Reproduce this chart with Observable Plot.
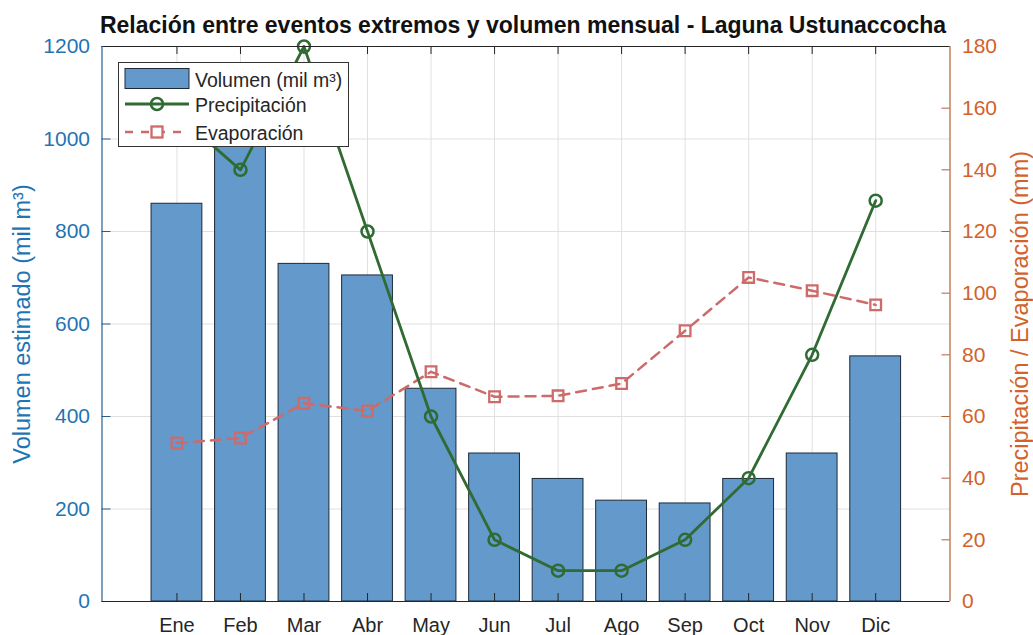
<!DOCTYPE html>
<html>
<head>
<meta charset="utf-8">
<script src="https://cdn.jsdelivr.net/npm/d3@7"></script>
<script src="https://cdn.jsdelivr.net/npm/@observablehq/plot@0.6"></script>
<style>
  html, body { margin: 0; padding: 0; background: #fff; }
  body { font-family: "Liberation Sans", Arial, sans-serif; }
  #wrap { position: relative; width: 1033px; height: 635px; overflow: hidden; }
  #wrap svg { display: block; }
  #legend { position: absolute; left: 118px; top: 62px; width: 231px; height: 85px; }
</style>
</head>
<body>
<div id="wrap"></div>
<script>
// ---- data ----
const months = ["Ene","Feb","Mar","Abr","May","Jun","Jul","Ago","Sep","Oct","Nov","Dic"];
const volumen = [860, 1050, 730, 705, 460, 320, 265, 218, 212, 265, 320, 530];          // mil m³
const precipitacion = [158, 140, 180, 120, 60, 20, 10, 10, 20, 40, 80, 130];            // mm
const evaporacion = [51.4, 53, 64.3, 61.8, 74.5, 66.4, 66.7, 70.7, 87.8, 105.1, 100.8, 96.2]; // mm
const volTicks = [0, 200, 400, 600, 800, 1000, 1200];
const mmTicks = [0, 20, 40, 60, 80, 100, 120, 140, 160, 180];
const titleText = "Relación entre eventos extremos y volumen mensual - Laguna Ustunaccocha";
const yLeftLabel = "Volumen estimado (mil m³)";
const yRightLabel = "Precipitación / Evaporación (mm)";
const legendLabels = ["Volumen (mil m³)", "Precipitación", "Evaporación"];

// ---- layout ----
const W = 1033, H = 635;
const mL = 101.5, mR = 83.5, mT = 46, mB = 34;
const fw = W - mL - mR, fh = H - mT - mB;
const xDomain = [-0.18, 13.17];
const yMax = 1200, mmMax = 180;
const k = yMax / mmMax; // right axis (mm) -> left axis units

const colBlue = "#1f74b4", colOrange = "#d2622a", colText = "#262626";
const barFill = "#6399cb", barStroke = "#1c2a3a";
const colPre = "#2f6b33", colEva = "#cd6b6b";
const font = "Liberation Sans, Arial, Helvetica, sans-serif";

const data = months.map((m, i) => ({
  i: i + 1, m, vol: volumen[i], pre: precipitacion[i] * k, eva: evaporacion[i] * k
}));
const idx = data.map(d => d.i);

const chart = Plot.plot({
  width: W, height: H,
  marginLeft: mL, marginRight: mR, marginTop: mT, marginBottom: mB,
  style: { fontFamily: font, background: "white", color: colText },
  x: { type: "linear", domain: xDomain, axis: null },
  y: { domain: [0, yMax], axis: null },
  marks: [
    Plot.gridX(idx, { stroke: "#e0e0e0", strokeOpacity: 1, strokeWidth: 1 }),
    Plot.gridY(volTicks, { stroke: "#e0e0e0", strokeOpacity: 1, strokeWidth: 1 }),
    Plot.rectY(data, { x1: d => d.i - 0.4, x2: d => d.i + 0.4, y: "vol", fill: barFill, stroke: barStroke, strokeWidth: 1 }),
    // inward ticks (MATLAB style)
    Plot.tickX(idx, { x: d => d, insetTop: fh - 8, stroke: colText }),
    Plot.tickX(idx, { x: d => d, insetBottom: fh - 8, stroke: colText }),
    Plot.tickY(volTicks, { y: d => d, insetRight: fw - 9, stroke: "#2b5f88" }),
    Plot.tickY(mmTicks.map(v => v * k), { y: d => d, insetLeft: fw - 8, stroke: "#b0603a" }),
    // evaporation
    Plot.line(data, { x: "i", y: "eva", stroke: colEva, strokeWidth: 2.5, strokeDasharray: "10,7" }),
    Plot.dot(data, { x: "i", y: "eva", symbol: "square", r: 6, stroke: colEva, strokeWidth: 2.3, fill: "none" }),
    // precipitation
    Plot.line(data, { x: "i", y: "pre", stroke: colPre, strokeWidth: 2.8 }),
    Plot.dot(data, { x: "i", y: "pre", r: 6, stroke: colPre, strokeWidth: 2.5, fill: "none" }),
    // box
    Plot.ruleY([0], { stroke: colText, strokeWidth: 1 }),
    Plot.ruleY([yMax], { stroke: colText, strokeWidth: 1 }),
    Plot.ruleX([xDomain[0]], { stroke: "#2b5f88", strokeWidth: 1.2 }),
    Plot.ruleX([xDomain[1]], { stroke: "#b0603a", strokeWidth: 1.2 }),
    // axes
    Plot.axisX(idx, { anchor: "bottom", tickSize: 0, tickPadding: 16, tickFormat: i => months[i - 1], fontSize: 20, fill: colText, label: null }),
    Plot.axisY(volTicks, { anchor: "left", tickSize: 0, tickPadding: 12, tickFormat: d => String(d), fontSize: 21, fill: colBlue, label: null }),
    Plot.axisY(mmTicks.map(v => v * k), { anchor: "right", tickSize: 0, tickPadding: 12, tickFormat: d => String(Math.round(d / k)), fontSize: 21, fill: colOrange, label: null }),
    // axis titles
    Plot.text([yLeftLabel], { text: d => d, frameAnchor: "left", dx: -79.5, rotate: -90, fontSize: 23.5, fill: colBlue, textAnchor: "middle", lineAnchor: "middle" }),
    Plot.text([yRightLabel], { text: d => d, frameAnchor: "right", dx: 70, rotate: -90, fontSize: 23.5, fill: colOrange, textAnchor: "middle", lineAnchor: "middle" }),
    // title
    Plot.text([titleText], { text: d => d, frameAnchor: "top", dy: -21, dx: -3, fontSize: 23, fontWeight: "bold", fill: "#111", textAnchor: "middle", lineAnchor: "middle" })
  ]
});

const wrap = document.getElementById("wrap");
wrap.appendChild(chart);

// ---- legend (overlay) ----
const lg = d3.select(wrap).append("svg").attr("id", "legend").attr("width", 231).attr("height", 85)
  .style("font-family", font);
lg.append("rect").attr("x", 0.5).attr("y", 0.5).attr("width", 230).attr("height", 84)
  .attr("fill", "white").attr("stroke", "#333").attr("stroke-width", 1);
lg.append("rect").attr("x", 7).attr("y", 6.5).attr("width", 64).attr("height", 20)
  .attr("fill", barFill).attr("stroke", barStroke).attr("stroke-width", 1);
lg.append("line").attr("x1", 7).attr("x2", 71).attr("y1", 42).attr("y2", 42)
  .attr("stroke", colPre).attr("stroke-width", 2.8);
lg.append("circle").attr("cx", 39).attr("cy", 42).attr("r", 6)
  .attr("fill", "none").attr("stroke", colPre).attr("stroke-width", 2.5);
lg.append("line").attr("x1", 7).attr("x2", 71).attr("y1", 70).attr("y2", 70)
  .attr("stroke", colEva).attr("stroke-width", 2.5).attr("stroke-dasharray", "8,8");
lg.append("rect").attr("x", 33.5).attr("y", 64.5).attr("width", 11).attr("height", 11)
  .attr("fill", "white").attr("stroke", colEva).attr("stroke-width", 2.3);
const ys = [24.7, 49.7, 77.5];
legendLabels.forEach((t, j) => {
  lg.append("text").attr("x", 77).attr("y", ys[j]).attr("font-size", 19.5)
    .attr("fill", colText).text(t);
});
</script>
</body>
</html>
